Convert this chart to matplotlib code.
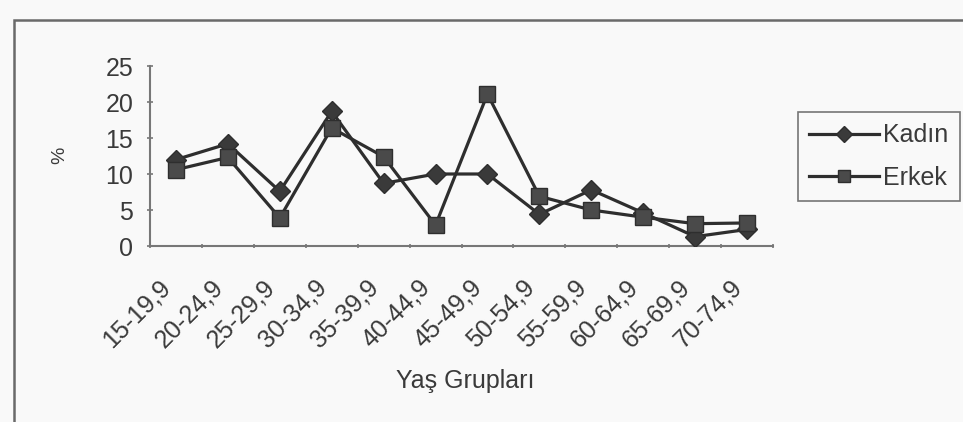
import matplotlib
matplotlib.use("Agg")
import matplotlib.pyplot as plt
import matplotlib.transforms as mtransforms
from matplotlib.patches import Rectangle

categories = ["15-19,9", "20-24,9", "25-29,9", "30-34,9", "35-39,9", "40-44,9",
              "45-49,9", "50-54,9", "55-59,9", "60-64,9", "65-69,9", "70-74,9"]
kadin = [12.0, 14.2, 7.6, 18.7, 8.7, 10.0, 10.0, 4.4, 7.8, 4.6, 1.3, 2.3]
erkek = [10.6, 12.3, 3.9, 16.4, 12.4, 2.9, 21.1, 6.9, 5.0, 4.0, 3.1, 3.2]
yticks = [0, 5, 10, 15, 20, 25]

plt.rcParams['font.family'] = ['Liberation Sans', 'DejaVu Sans']
W, H = 963, 422
FS = 18
TXT = '#3a3a3a'
fig = plt.figure(figsize=(W / 100, H / 100), dpi=100, facecolor='#f9f9f9')

# outer chart frame (extends beyond the image on right/bottom)
fig.patches.append(Rectangle((14 / W, -0.1), 1.2, 1 - 20 / H + 0.1,
                             transform=fig.transFigure, fill=False,
                             edgecolor='#6a6a6a', linewidth=1.8))

ax = fig.add_axes([150 / W, (H - 246) / H, 623 / W, 180 / H])
ax.set_facecolor('none')
x = list(range(len(categories)))
dark = '#2e2e2e'
ax.plot(x, kadin, color=dark, linewidth=2.3, marker='D', markersize=10,
        markerfacecolor='#3a3a3a', markeredgecolor=dark, label='Kadın', zorder=3)
ax.plot(x, erkek, color=dark, linewidth=2.3, marker='s', markersize=11,
        markerfacecolor='#4a4a4a', markeredgecolor=dark, label='Erkek', zorder=3)

ax.set_xlim(-0.5, len(categories) - 0.5)
ax.set_ylim(0, 25)
ax.set_yticks(yticks)
ax.set_yticklabels([str(v) for v in yticks])
ax.set_xticks(x)
ax.set_xticklabels(categories, rotation=45, ha='right', va='center',
                   rotation_mode='anchor')
ax.set_xticks([i - 0.5 for i in range(len(categories) + 1)], minor=True)
ax.tick_params(axis='x', which='major', length=0, pad=27, labelsize=FS,
               labelcolor=TXT)
ax.tick_params(axis='x', which='minor', length=3, direction='inout',
               color='#777777', width=1.2)
ax.tick_params(axis='y', length=4, direction='inout', color='#777777',
               width=1.2, labelsize=FS, labelcolor=TXT, pad=10)
shift = mtransforms.ScaledTranslation(-9 / 100, 0, fig.dpi_scale_trans)
for lab in ax.get_xticklabels():
    lab.set_transform(lab.get_transform() + shift)
for s in ['top', 'right']:
    ax.spines[s].set_visible(False)
for s in ['left', 'bottom']:
    ax.spines[s].set_color('#777777')
    ax.spines[s].set_linewidth(1.5)

fig.text(60 / W, 1 - 155 / H, '%', ha='center', va='center', rotation=90,
         fontsize=FS - 4, color=TXT)
fig.text(465 / W, 1 - 381 / H, 'Yaş Grupları', ha='center', va='center',
         fontsize=FS, color=TXT)

leg = fig.legend(loc='upper left', bbox_to_anchor=(798 / W, 1 - 112 / H),
                 frameon=True, fancybox=False, fontsize=FS,
                 handlelength=2.8, borderpad=0.45, labelspacing=0.75,
                 handletextpad=0.15, borderaxespad=0)
leg.get_frame().set_edgecolor('#555555')
leg.get_frame().set_linewidth(1.2)
leg.get_frame().set_facecolor('#f9f9f9')
for t in leg.get_texts():
    t.set_color(TXT)
for h in leg.legend_handles:
    h.set_markersize(8)

fig.savefig('out.png', dpi=100, facecolor=fig.get_facecolor())
